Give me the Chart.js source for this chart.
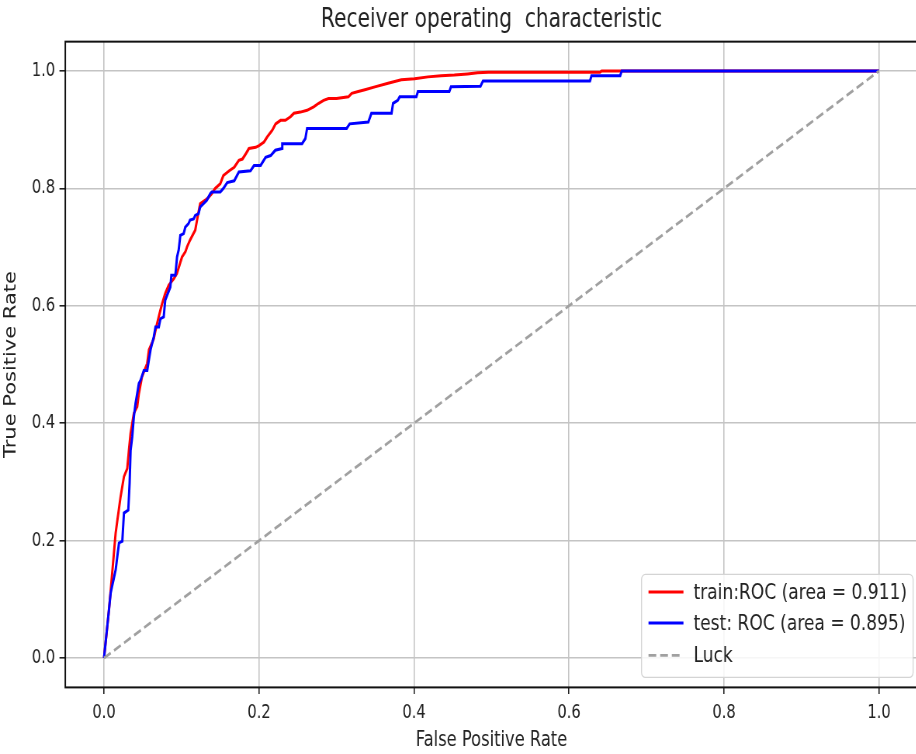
<!DOCTYPE html>
<html>
<head>
<meta charset="utf-8">
<script src="https://cdn.jsdelivr.net/npm/chart.js@4/dist/chart.umd.min.js"></script>
<style>
  html, body { margin: 0; padding: 0; background: #fff; overflow: hidden; width: 916px; height: 754px; }
  #wrap { position: absolute; left: 0; top: 0; transform: scaleX(0.776); transform-origin: 0 0; }
  canvas { display: block; }
</style>
</head>
<body>
<div id="wrap"><canvas id="roc" width="1186" height="754"></canvas></div>
<script>
// ROC curve points (false positive rate / true positive rate)
const trainFpr = [0, 0.0064, 0.015, 0.0214, 0.0257, 0.030, 0.0321, 0.0343, 0.0385, 0.0428, 0.045, 0.049, 0.0557, 0.058, 0.0642, 0.0664, 0.0685, 0.0728, 0.075, 0.079, 0.0835, 0.090, 0.094, 0.1006, 0.105, 0.107, 0.111, 0.1177, 0.120, 0.124, 0.1306, 0.135, 0.139, 0.1434, 0.150, 0.154, 0.1616, 0.168, 0.174, 0.1786, 0.183, 0.187, 0.1957, 0.200, 0.2064, 0.2107, 0.217, 0.2214, 0.2278, 0.234, 0.2406, 0.245, 0.2534, 0.262, 0.2705, 0.277, 0.2833, 0.2897, 0.300, 0.3153, 0.3196, 0.328, 0.3366, 0.3495, 0.3665, 0.3836, 0.4007, 0.418, 0.4349, 0.452, 0.469, 0.482, 0.496, 0.640, 0.642, 1.0];
const trainTpr = [0, 0.082, 0.213, 0.275, 0.309, 0.323, 0.354, 0.383, 0.417, 0.428, 0.451, 0.479, 0.502, 0.525, 0.544, 0.558, 0.570, 0.593, 0.604, 0.621, 0.635, 0.646, 0.655, 0.683, 0.692, 0.700, 0.712, 0.729, 0.746, 0.774, 0.780, 0.785, 0.791, 0.800, 0.808, 0.822, 0.830, 0.836, 0.848, 0.850, 0.859, 0.868, 0.870, 0.873, 0.879, 0.888, 0.899, 0.910, 0.916, 0.916, 0.922, 0.928, 0.930, 0.933, 0.939, 0.945, 0.950, 0.953, 0.953, 0.956, 0.962, 0.965, 0.968, 0.973, 0.979, 0.985, 0.987, 0.990, 0.992, 0.993, 0.995, 0.997, 0.998, 0.998, 1.0, 1.0];

const testFpr = [0, 0.0086, 0.015, 0.0193, 0.0236, 0.0257, 0.0313, 0.033, 0.0343, 0.0364, 0.0385, 0.0407, 0.045, 0.0471, 0.0514, 0.0557, 0.060, 0.0642, 0.0664, 0.0707, 0.0728, 0.077, 0.079, 0.0814, 0.0856, 0.0869, 0.092, 0.0942, 0.0963, 0.0985, 0.1027, 0.1049, 0.109, 0.111, 0.1156, 0.1177, 0.122, 0.124, 0.1284, 0.1327, 0.137, 0.139, 0.150, 0.154, 0.159, 0.168, 0.174, 0.189, 0.1936, 0.202, 0.2085, 0.215, 0.221, 0.230, 0.230, 0.2555, 0.2598, 0.262, 0.313, 0.317, 0.341, 0.345, 0.371, 0.373, 0.379, 0.3815, 0.403, 0.405, 0.4455, 0.4477, 0.4857, 0.489, 0.627, 0.629, 0.666, 0.668, 1.0];
const testTpr = [0, 0.111, 0.150, 0.196, 0.199, 0.247, 0.252, 0.298, 0.354, 0.377, 0.411, 0.434, 0.468, 0.473, 0.490, 0.490, 0.525, 0.547, 0.564, 0.564, 0.578, 0.581, 0.610, 0.618, 0.632, 0.652, 0.652, 0.683, 0.695, 0.720, 0.723, 0.734, 0.740, 0.746, 0.748, 0.754, 0.757, 0.768, 0.774, 0.780, 0.791, 0.794, 0.794, 0.800, 0.810, 0.813, 0.828, 0.830, 0.839, 0.839, 0.853, 0.856, 0.865, 0.868, 0.876, 0.876, 0.885, 0.902, 0.902, 0.910, 0.913, 0.928, 0.928, 0.945, 0.950, 0.956, 0.956, 0.965, 0.965, 0.973, 0.974, 0.983, 0.983, 0.992, 0.992, 1.0, 1.0];

// chance diagonal
const luckFpr = [0, 1];
const luckTpr = [0, 1];

const trainAuc = 0.911;
const testAuc = 0.895;

const xTicks = [0.0, 0.2, 0.4, 0.6, 0.8, 1.0];
const yTicks = [0.0, 0.2, 0.4, 0.6, 0.8, 1.0];

const FONT = '"DejaVu Sans", "Liberation Sans", sans-serif';
const TEXT = '#222222';

const pts = (xs, ys) => xs.map((x, i) => ({ x, y: ys[i] }));

// frame around the plot area plus an in-plot legend box
const framePlugin = {
  id: 'frameAndLegend',
  afterDatasetsDraw(chart) {
    const { ctx, chartArea: a } = chart;
    ctx.save();
    ctx.strokeStyle = '#111';
    ctx.lineWidth = 2;
    ctx.strokeRect(a.left, a.top, a.right - a.left, a.bottom - a.top);

    const bw = 350, bh = 103;
    const bx = a.right - 6 - bw, by = a.bottom - 10 - bh;
    ctx.beginPath();
    ctx.roundRect(bx, by, bw, bh, 5);
    ctx.fillStyle = 'rgba(255,255,255,0.85)';
    ctx.fill();
    ctx.strokeStyle = '#d4d4d4';
    ctx.lineWidth = 1.3;
    ctx.stroke();

    const rows = [17.7, 48.7, 81];
    chart.data.datasets.forEach((ds, i) => {
      const y = by + rows[i];
      ctx.beginPath();
      ctx.setLineDash(ds.borderDash || []);
      ctx.strokeStyle = ds.borderColor;
      ctx.lineWidth = ds.borderWidth;
      ctx.moveTo(bx + 9, y);
      ctx.lineTo(bx + 54, y);
      ctx.stroke();
      ctx.setLineDash([]);
      ctx.fillStyle = TEXT;
      ctx.font = '22px ' + FONT;
      ctx.textBaseline = 'middle';
      ctx.textAlign = 'left';
      ctx.fillText(ds.label, bx + 67, y + 1);
    });
    ctx.restore();
  }
};

new Chart(document.getElementById('roc'), {
  type: 'scatter',
  data: {
    datasets: [
      {
        label: 'train:ROC (area = ' + trainAuc.toFixed(3) + ')',
        data: pts(trainFpr, trainTpr),
        showLine: true, borderColor: '#ff0000', borderWidth: 3,
        pointRadius: 0, tension: 0, order: 2
      },
      {
        label: 'test: ROC (area = ' + testAuc.toFixed(3) + ')',
        data: pts(testFpr, testTpr),
        showLine: true, borderColor: '#0000ff', borderWidth: 3,
        pointRadius: 0, tension: 0, order: 1
      },
      {
        label: 'Luck',
        data: pts(luckFpr, luckTpr),
        showLine: true, borderColor: '#a0a0a0', borderWidth: 2.8,
        borderDash: [10, 5], pointRadius: 0, tension: 0, order: 0
      }
    ]
  },
  options: {
    responsive: false,
    animation: false,
    devicePixelRatio: 1,
    layout: { padding: { left: 0, right: 3.3, top: 0, bottom: 0 } },
    plugins: {
      legend: { display: false },
      tooltip: { enabled: false },
      title: {
        display: true,
        text: 'Receiver operating  characteristic',
        color: TEXT,
        fullSize: false,
        font: { family: FONT, size: 26, weight: 'normal' },
        padding: { top: 5, bottom: 5.45 }
      }
    },
    scales: {
      x: {
        type: 'linear', min: -0.05, max: 1.05,
        afterBuildTicks: s => { s.ticks = xTicks.map(v => ({ value: v })); },
        afterFit: s => { s.height = 66.6; },
        ticks: {
          color: TEXT, padding: 7.7, maxRotation: 0,
          font: { family: FONT, size: 19 },
          callback: v => Number(v).toFixed(1)
        },
        grid: { color: '#c4c4c4', lineWidth: 1.6, tickColor: '#222', tickLength: 6.5, tickWidth: 1.6 },
        border: { display: false },
        title: {
          display: true, text: 'False Positive Rate', color: TEXT,
          font: { family: FONT, size: 21 }, padding: { top: 0, bottom: 0.4 }
        }
      },
      y: {
        type: 'linear', min: -0.05, max: 1.05,
        afterBuildTicks: s => { s.ticks = yTicks.map(v => ({ value: v })); },
        afterFit: s => { s.width = 84.1; },
        ticks: {
          color: TEXT, padding: 5.5,
          font: { family: FONT, size: 19 },
          callback: v => Number(v).toFixed(1)
        },
        grid: { color: '#c4c4c4', lineWidth: 1.6, tickColor: '#222', tickLength: 7.5, tickWidth: 1.6 },
        border: { display: false },
        title: {
          display: true, text: 'True Positive Rate', color: TEXT,
          font: { family: FONT, size: 21 }, padding: { top: 2.3, bottom: 0 }
        }
      }
    }
  },
  plugins: [framePlugin]
});
</script>
</body>
</html>
